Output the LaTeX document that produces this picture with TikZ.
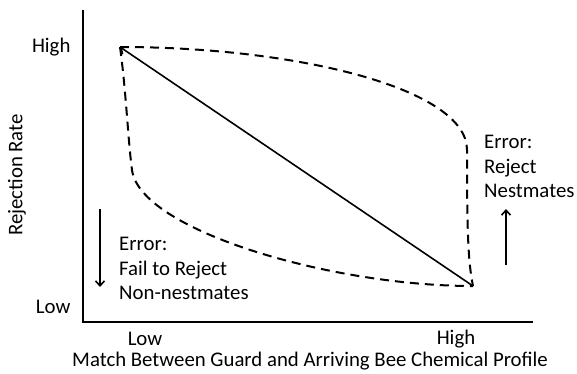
\documentclass[tikz,border=0pt]{standalone}
\usepackage{fontspec}
\setmainfont{Carlito}
\usepackage{tikz}
\usetikzlibrary{arrows,arrows.meta}

\begin{document}
\begin{tikzpicture}[x=1pt, y=-1pt, every node/.style={font=\fontsize{20.8}{24.5}\selectfont},
    >={Straight Barb[length=5pt,width=9pt]},
    axis/.style={line width=2.8pt},
    curve/.style={line width=2pt, dash pattern=on 9pt off 6pt},
    lbl/.style={align=left, anchor=north west, inner sep=0pt}]
\useasboundingbox (0,0) rectangle (577,373);
% axes
\coordinate (o) at (83,322);
\draw[axis] (83,10) -- (o) -- (533,322);
\node[anchor=east] (yhigh) at (74,47) {High};
\node[anchor=east] (ylow) at (74,307) {Low};
\node (xlow) at (145,339) {Low};
\node (xhigh) at (456,339) {High};
\node[inner sep=1pt] (xtitle) at (310,361) {Match Between Guard and Arriving Bee Chemical Profile};
\node[rotate=90] (ytitle) at (17,175) {Rejection Rate};
% points
\coordinate (hi) at (120,47);
\coordinate (lo) at (473,286);
\draw[line width=1.6pt, ->] (lo) -- (hi);
\draw[curve] (hi) .. controls (295,47) and (467,88) .. (467,150)
    .. controls (467,230) and (468,262) .. (lo);
\draw[curve] (hi) .. controls (126,90) and (128,140) .. (132,170)
    .. controls (140,230) and (330,286) .. (lo);
% errors
\node[lbl] (err1) at (484,135) {Error:\\Reject\\Nestmates};
\node[lbl] (err2) at (119,237) {Error:\\Fail to Reject\\Non-nestmates};
\coordinate (up1) at (506,265); \coordinate (up2) at (506,209);
\coordinate (dn1) at (100,209); \coordinate (dn2) at (100,287);
\draw[line width=1.6pt, ->] (up1) -- (up2);
\draw[line width=1.6pt, ->] (dn1) -- (dn2);
\end{tikzpicture}
\end{document}
